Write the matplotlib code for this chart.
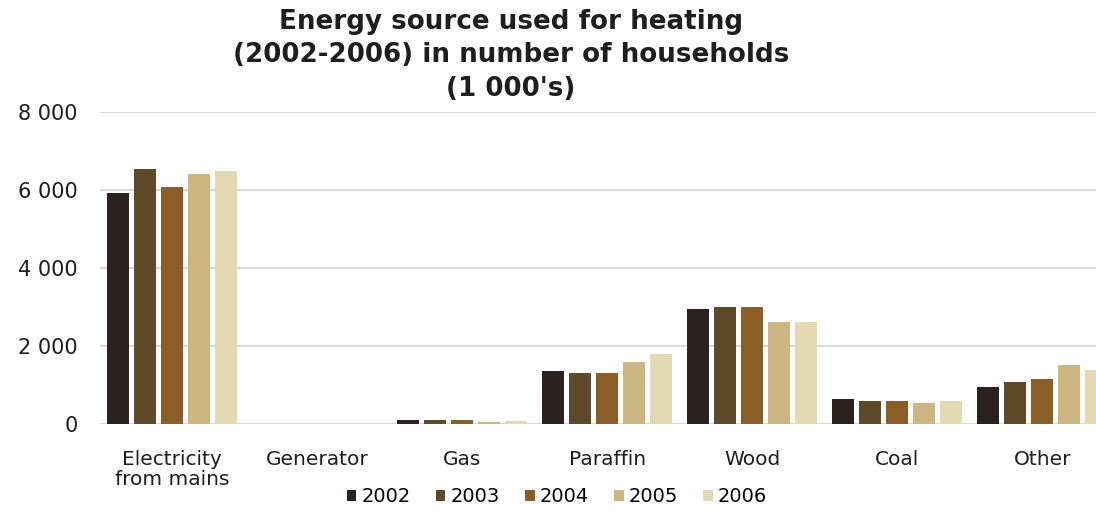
import numpy as np
import matplotlib.pyplot as plt
from matplotlib.ticker import FuncFormatter

# categorias e valores (1 000 domicílios)
categories = ['Electricity\nfrom mains', 'Generator', 'Gas', 'Paraffin', 'Wood', 'Coal', 'Other']
years = ['2002', '2003', '2004', '2005', '2006']
v2002 = [5920, 0, 100, 1360, 2950, 640, 950]
v2003 = [6540, 0, 90, 1310, 3000, 590, 1080]
v2004 = [6080, 0, 110, 1310, 3000, 590, 1150]
v2005 = [6410, 0, 60, 1590, 2620, 540, 1510]
v2006 = [6490, 0, 70, 1790, 2620, 590, 1380]
series = [v2002, v2003, v2004, v2005, v2006]
colors = ['#2b211e', '#5e4a28', '#8a5e26', '#cdb57f', '#e4d9b2']

fig = plt.figure(figsize=(10.96, 5.12), dpi=100)
ax = fig.add_axes([0.091, 0.172, 0.909, 0.609])

x = np.arange(len(categories))
step = 0.186
width = 0.152
for i, (vals, c) in enumerate(zip(series, colors)):
    ax.bar(x + (i - 2) * step, vals, width, color=c, label=years[i], zorder=3)

ax.set_xlim(-0.5, 6.37)
ax.set_ylim(0, 8000)
ax.set_yticks([0, 2000, 4000, 6000, 8000])
ax.yaxis.set_major_formatter(FuncFormatter(lambda v, p: f'{int(v):,}'.replace(',', ' ')))
ax.grid(axis='y', color='#dcd8d4', linewidth=1.5, zorder=0)
for s in ax.spines.values():
    s.set_visible(False)
ax.tick_params(axis='x', length=0, labelsize=14.5, colors='#1e1e1e', pad=19)
ax.tick_params(axis='y', length=0, labelsize=15, colors='#1e1e1e', pad=16)
ax.set_xticks(x)
ax.set_xticklabels(categories, linespacing=1.05)

fig.suptitle("Energy source used for heating\n(2002-2006) in number of households\n(1 000's)",
             x=0.466, y=0.983, fontsize=18.8, fontweight='bold', color='#1e1e1e', linespacing=1.38)

fig.legend(loc='center', bbox_to_anchor=(0.508, 0.03), ncol=5, frameon=False,
           fontsize=14, handlelength=0.5, handleheight=0.5, handletextpad=0.25,
           columnspacing=1.3)

fig.savefig('out.png', dpi=100)
